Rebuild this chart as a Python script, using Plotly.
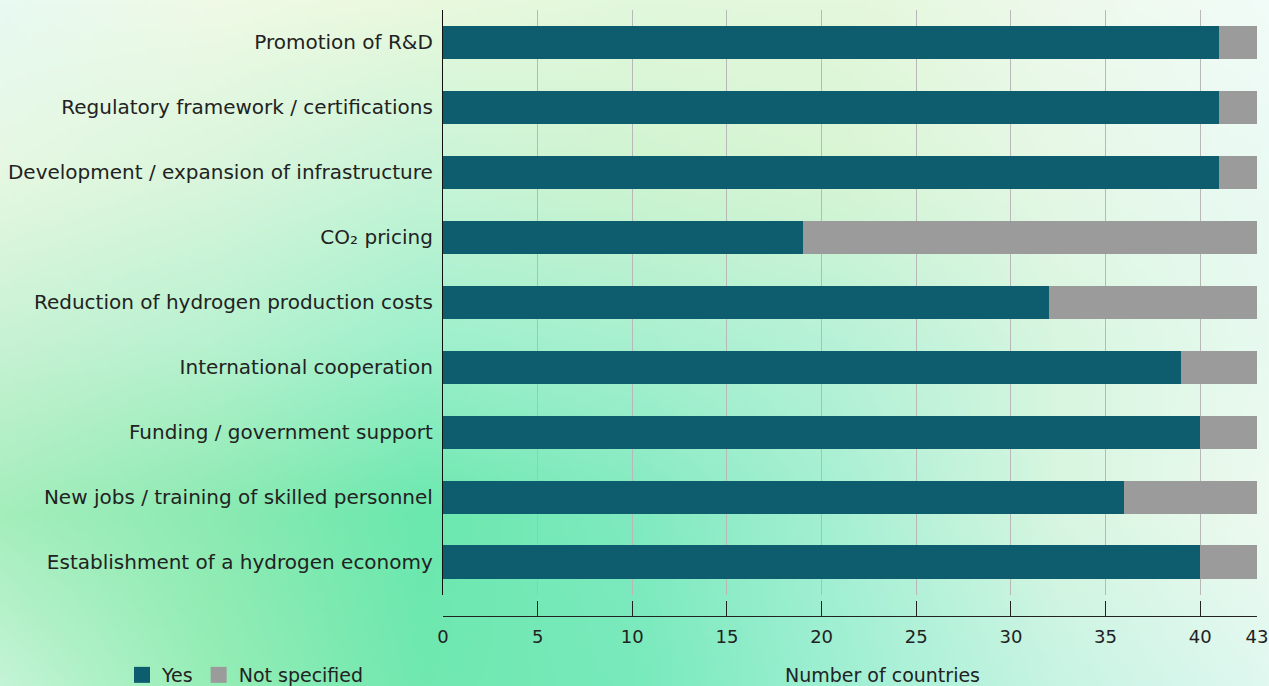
import base64, struct, zlib
import numpy as np
import plotly.graph_objects as go

# ---------------- data ----------------
categories = [
    "Establishment of a hydrogen economy",
    "New jobs / training of skilled personnel",
    "Funding / government support",
    "International cooperation",
    "Reduction of hydrogen production costs",
    "CO\u2082 pricing",
    "Development / expansion of infrastructure",
    "Regulatory framework / certifications",
    "Promotion of R&D",
]
yes_values = [40, 36, 40, 39, 32, 19, 41, 41, 41]
total_countries = 43
not_specified = [total_countries - v for v in yes_values]
tick_values = [0, 5, 10, 15, 20, 25, 30, 35, 40, 43]
grid_values = [5, 10, 15, 20, 25, 30, 35, 40]
series_names = ["Yes", "Not specified"]

# ---------------- background gradient image ----------------
W, H = 1269, 686
ctrl_x = [0, 212, 423, 635, 846, 1058, 1269]
ctrl_y = [0, 172, 343, 515, 686]
ctrl = [
    ["#e8faf2", "#f0fae6", "#eaf9de", "#e2f8dc", "#e4f8dc", "#eef9ec", "#f2fcf8"],
    ["#e6f8e2", "#daf6dc", "#c8f4d8", "#d0f4d0", "#d8f5d4", "#e6f8e6", "#eafaf4"],
    ["#c8f2d4", "#b8f2d0", "#9ef0cc", "#a8f0d0", "#b8f2d8", "#d8f6e0", "#e8faf0"],
    ["#a4eebc", "#8ceab2", "#6ae8ae", "#80eac0", "#a8f0d4", "#d8f6e0", "#eefaf0"],
    ["#c4f4d6", "#96eeb6", "#70e8b0", "#78eabc", "#a0f0d4", "#c8f4e4", "#e0f8f0"],
]


def hex2rgb(h):
    h = h.lstrip("#")
    return [int(h[i:i + 2], 16) for i in (0, 2, 4)]


grid = np.array([[hex2rgb(c) for c in row] for row in ctrl], dtype=float)
iw, ih = 254, 137
xs = np.linspace(0, W, iw)
ys = np.linspace(0, H, ih)
img = np.zeros((ih, iw, 3))
for ch in range(3):
    tmp = np.array([np.interp(xs, ctrl_x, grid[r, :, ch]) for r in range(len(ctrl_y))])
    for j in range(iw):
        img[:, j, ch] = np.interp(ys, ctrl_y, tmp[:, j])
img = np.clip(img, 0, 255).astype(np.uint8)


def png_uri(arr):
    h, w, _ = arr.shape
    raw = b"".join(b"\x00" + arr[r].tobytes() for r in range(h))

    def chunk(t, d):
        c = struct.pack(">I", len(d)) + t + d
        return c + struct.pack(">I", zlib.crc32(t + d) & 0xFFFFFFFF)

    png = b"\x89PNG\r\n\x1a\n" + chunk(b"IHDR", struct.pack(">IIBBBBB", w, h, 8, 2, 0, 0, 0))
    png += chunk(b"IDAT", zlib.compress(raw, 9)) + chunk(b"IEND", b"")
    return "data:image/png;base64," + base64.b64encode(png).decode()


# ---------------- layout geometry ----------------
ML, MR, MT, MB = 443, 12, 10, 70
PW = W - ML - MR
PH = H - MT - MB
ydom0 = 21.5 / PH

FONT = "DejaVu Sans"
TXT = "#222222"
TEAL = "#0e5d6f"
GREY = "#9b9b9b"
colors = [TEAL, GREY]

fig = go.Figure()
for name, vals, col in zip(series_names, [yes_values, not_specified], colors):
    fig.add_trace(go.Bar(
        y=categories, x=vals, orientation="h", name=name, legendgroup=name,
        marker=dict(color=col, line=dict(width=0)), width=0.51, xaxis="x",
        showlegend=False,
    ))
    # legend entry (square swatch)
    fig.add_trace(go.Scatter(
        x=[None], y=[None], mode="markers", name=name, legendgroup=name,
        marker=dict(symbol="square", size=16, color=col), xaxis="x",
    ))
# invisible trace to host the grid axis
fig.add_trace(go.Scatter(x=[0], y=[categories[0]], xaxis="x2", mode="markers",
                         marker=dict(opacity=0), showlegend=False, hoverinfo="skip"))

fig.update_layout(
    width=W, height=H,
    margin=dict(l=ML, r=MR, t=MT, b=MB, autoexpand=False),
    barmode="stack",
    paper_bgcolor="#d8f6e4",
    plot_bgcolor="rgba(0,0,0,0)",
    font=dict(family=FONT, size=18, color=TXT),
    images=[dict(
        source=png_uri(img), xref="paper", yref="paper",
        x=-ML / PW, y=1 + MT / PH, sizex=W / PW, sizey=H / PH,
        xanchor="left", yanchor="top", sizing="stretch", layer="below",
    )],
    xaxis=dict(
        range=[0, total_countries], anchor="free", position=0, automargin=False,
        tickmode="array", tickvals=tick_values, ticktext=[str(v) for v in tick_values],
        ticks="inside", ticklen=15, tickwidth=1, tickcolor=TXT,
        showline=True, linecolor=TXT, linewidth=1.3,
        showgrid=False, zeroline=False, ticklabelstandoff=4,
        tickfont=dict(size=18, color=TXT),
    ),
    xaxis2=dict(
        range=[0, total_countries], overlaying="x", anchor="y", automargin=False,
        tickmode="array", tickvals=grid_values, showticklabels=False,
        showgrid=True, gridcolor="#b8b8b8", gridwidth=1, zeroline=False,
        showline=False, ticks="",
    ),
    yaxis=dict(
        domain=[ydom0, 1], range=[-0.5, 8.5], automargin=False,
        showline=True, linecolor="#111111", linewidth=1.3,
        ticks="", ticklabelstandoff=5, showgrid=False,
        tickfont=dict(size=20, color=TXT),
        categoryorder="array", categoryarray=categories,
    ),
    legend=dict(
        orientation="h", traceorder="normal",
        xref="container", yref="container",
        x=122 / W, xanchor="left", y=1 - 675 / H, yanchor="middle",
        font=dict(size=19, color=TXT), bgcolor="rgba(0,0,0,0)",
        itemwidth=30, tracegroupgap=0,
    ),
    annotations=[dict(
        text="Number of countries", xref="paper", yref="paper",
        x=(882 - ML) / PW, y=-(675 - H + MB) / PH, xanchor="center", yanchor="middle",
        showarrow=False, font=dict(size=19, color=TXT),
    )],
    showlegend=True,
)

fig.write_html(
    "out.html",
    config={"displayModeBar": False},
    post_script="document.body.style.margin='0';document.body.style.overflow='hidden';",
)
